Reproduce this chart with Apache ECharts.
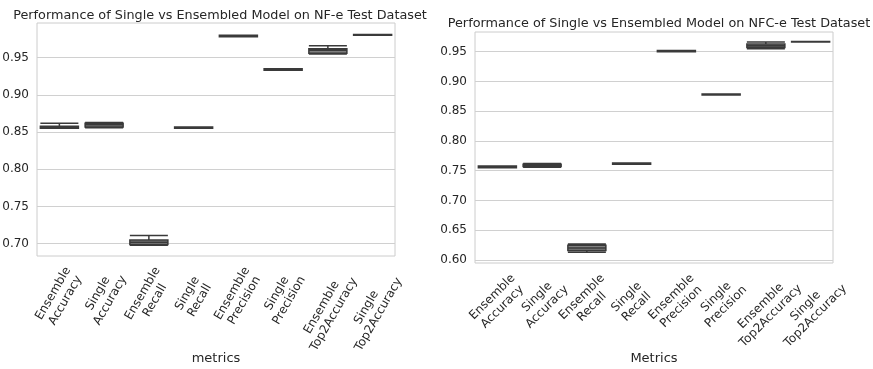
<!DOCTYPE html>
<html>
<head>
<meta charset="utf-8">
<script src="https://cdn.jsdelivr.net/npm/echarts@6/dist/echarts.min.js"></script>
<style>
  body{margin:0;background:#fff}
  #chart{width:873px;height:369px}
</style>
</head>
<body>
<div id="chart"></div>
<script>
// categories (same on both panels)
let metrics = ['Ensemble\nAccuracy', 'Single\nAccuracy', 'Ensemble\nRecall', 'Single\nRecall',
  'Ensemble\nPrecision', 'Single\nPrecision', 'Ensemble\nTop2Accuracy', 'Single\nTop2Accuracy']

// box values [min, Q1, median, Q3, max]
let nfeBoxes = [
  [0.855, 0.855, 0.857, 0.858, 0.862],
  [0.856, 0.857, 0.860, 0.862, 0.863],
  [0.698, 0.699, 0.702, 0.705, 0.711],
  [0.855, 0.855, 0.856, 0.857, 0.857],
  [0.978, 0.978, 0.979, 0.980, 0.980],
  [0.933, 0.933, 0.934, 0.935, 0.935],
  [0.955, 0.956, 0.960, 0.962, 0.966],
  [0.980, 0.980, 0.9805, 0.981, 0.981]
]
let nfceBoxes = [
  [0.755, 0.755, 0.757, 0.758, 0.758],
  [0.756, 0.757, 0.759, 0.761, 0.762],
  [0.613, 0.616, 0.620, 0.625, 0.627],
  [0.761, 0.761, 0.762, 0.763, 0.763],
  [0.950, 0.950, 0.951, 0.952, 0.952],
  [0.877, 0.877, 0.878, 0.879, 0.879],
  [0.955, 0.957, 0.960, 0.963, 0.966],
  [0.966, 0.966, 0.9665, 0.967, 0.967]
]

// tick labels
let nfeTicks = [0.70, 0.75, 0.80, 0.85, 0.90, 0.95]
let nfceTicks = [0.60, 0.65, 0.70, 0.75, 0.80, 0.85, 0.90, 0.95]

let txt = '#262626'
let font = 'DejaVu Sans'

function yAxisFor(idx, min, max, ticks){
  return {
    type: 'value', gridIndex: idx, min: min, max: max,
    axisLine: { show: false },
    axisTick: { show: false, customValues: ticks },
    axisLabel: { customValues: ticks, color: txt, fontSize: 12, fontFamily: font, margin: 8,
      formatter: v => v.toFixed(2) },
    splitLine: { show: true, lineStyle: { color: '#d0d0d0', width: 1 } }
  }
}
// labels are centred on the tick like matplotlib; the long Top2 labels sit a bit lower,
// so they go on a second (blank) category axis with a bigger margin
function xAxisFor(idx, rotate, margin, longOnly, name, gap){
  let ax = {
    type: 'category', gridIndex: idx, data: metrics, position: 'bottom',
    axisLine: { show: false }, axisTick: { show: false },
    axisLabel: { interval: 0, rotate: rotate, color: txt, fontSize: 12, fontFamily: font,
      lineHeight: 14, margin: margin, align: 'center', verticalAlign: 'middle',
      formatter: (v, i) => (longOnly ? i >= 6 : i < 6) ? v : '' },
    splitLine: { show: false }
  }
  if (name) {
    ax.name = name
    ax.nameLocation = 'middle'
    ax.nameGap = gap
    ax.nameTextStyle = { color: txt, fontSize: 13, fontFamily: font }
  }
  return ax
}
function boxSeries(idx, data){
  return {
    type: 'boxplot', xAxisIndex: idx, yAxisIndex: idx, data: data,
    boxWidth: [38, 38],
    itemStyle: { color: '#808080', borderColor: '#3a3a3a', borderWidth: 1.5 },
    silent: true
  }
}

let myChart = echarts.init(document.getElementById('chart'))
myChart.setOption({
  animation: false,
  title: [
    { text: 'Performance of Single vs Ensembled Model on NF-e Test Dataset', left: 215, top: 4, textAlign: 'center',
      textStyle: { color: txt, fontSize: 12.8, fontWeight: 'normal', fontFamily: font } },
    { text: 'Performance of Single vs Ensembled Model on NFC-e Test Dataset', left: 654, top: 12, textAlign: 'center',
      textStyle: { color: txt, fontSize: 12.8, fontWeight: 'normal', fontFamily: font } }
  ],
  grid: [
    { left: 37, top: 23, width: 358, height: 233, show: true, borderColor: '#cccccc', borderWidth: 1,
      outerBoundsMode: 'none', containLabel: false },
    { left: 475, top: 32, width: 358, height: 231, show: true, borderColor: '#cccccc', borderWidth: 1,
      outerBoundsMode: 'none', containLabel: false }
  ],
  xAxis: [
    xAxisFor(0, 60, 41, false, 'metrics', 96),
    xAxisFor(1, 45, 39, false, 'Metrics', 89),
    xAxisFor(0, 60, 55, true),
    xAxisFor(1, 45, 48, true)
  ],
  yAxis: [ yAxisFor(0, 0.6835, 0.9966, nfeTicks), yAxisFor(1, 0.595, 0.983, nfceTicks) ],
  series: [ boxSeries(0, nfeBoxes), boxSeries(1, nfceBoxes) ]
})
</script>
</body>
</html>
